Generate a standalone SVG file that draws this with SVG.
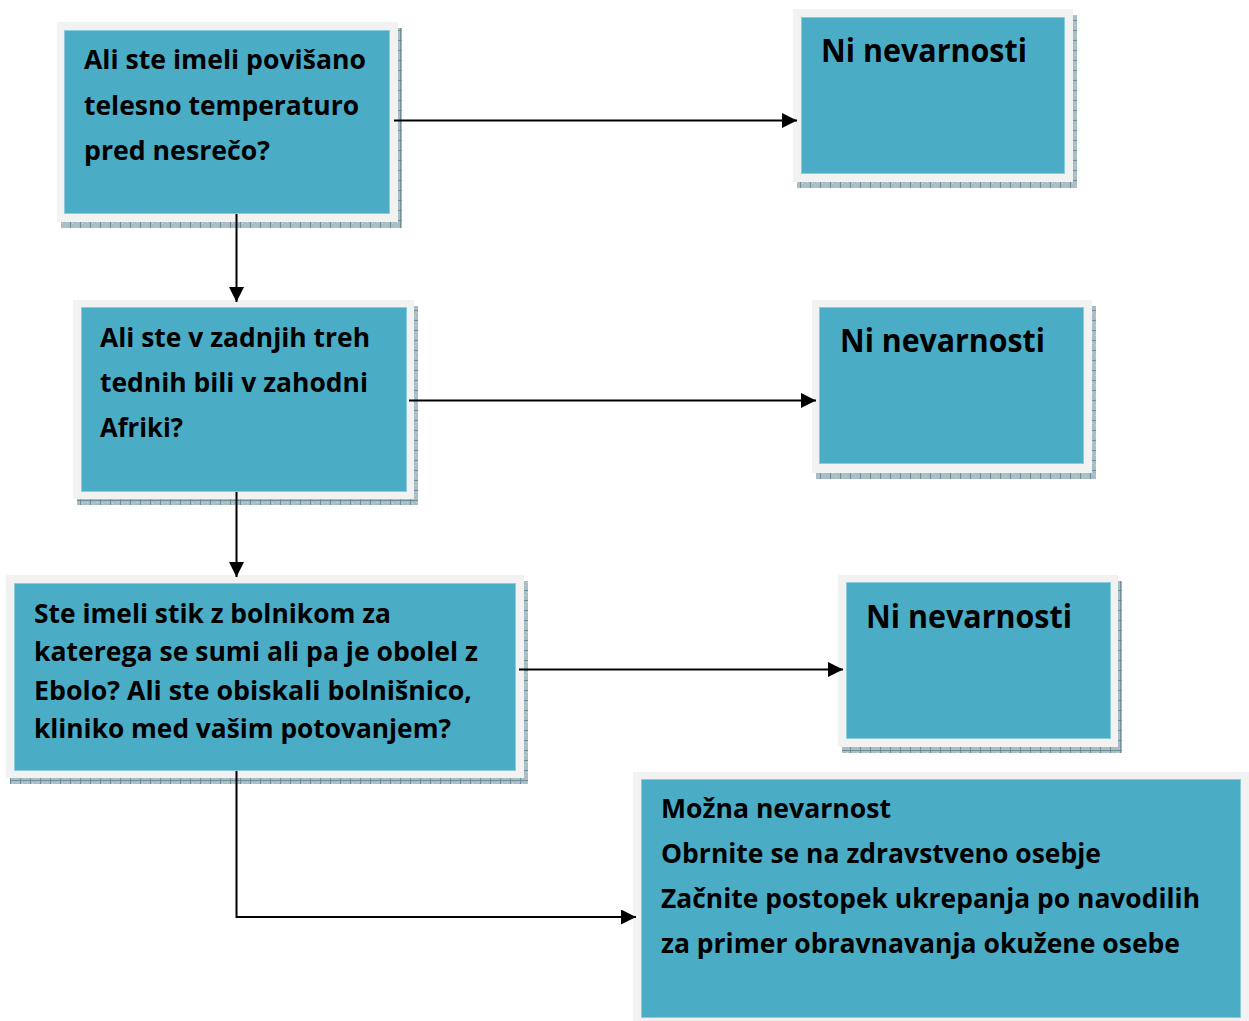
<svg xmlns="http://www.w3.org/2000/svg" width="1249" height="1021" viewBox="0 0 1249 1021">
  <defs>
    <pattern id="hatch" width="10" height="10" patternUnits="userSpaceOnUse">
      <rect width="10" height="10" fill="#a9bec4"/>
      <rect x="0" y="0" width="1" height="10" fill="#6f8e97"/>
      <rect x="0" y="0" width="10" height="1" fill="#6f8e97"/>
      <rect x="5" y="5" width="1" height="1" fill="#c9d7db"/>
      <rect x="2" y="3" width="1" height="1" fill="#c9d7db"/>
      <rect x="7" y="2" width="1" height="1" fill="#c9d7db"/>
    </pattern>
    <marker id="arrow" markerUnits="userSpaceOnUse" markerWidth="16" markerHeight="16" refX="15" refY="7.5" orient="auto">
      <path d="M0,0 L15,7.5 L0,15 z" fill="#000"/>
    </marker>
  </defs>
  <style>
    .shadow { fill: url(#hatch); }
    .frame { fill: #f2f2f2; }
    .inner { fill: #4bacc6; stroke: #8ccbdc; stroke-width: 1; }
    .t { font-family: "Open Sans", "Noto Sans", sans-serif; font-weight: bold; font-size: 27px; fill: #000; }
    .big { font-size: 32px; }
    .sm { font-size: 26px; }
    .conn { fill: none; stroke: #000; stroke-width: 2; }
  </style>
  <rect width="1249" height="1021" fill="#ffffff"/>

  <g id="q1">
    <rect class="shadow" x="61" y="28" width="341" height="200"/>
    <rect class="frame" x="57" y="22" width="341" height="200"/>
    <rect class="inner" x="64.5" y="30.5" width="325" height="183"/>
    <text class="t" x="84" y="69" textLength="282" lengthAdjust="spacingAndGlyphs">Ali ste imeli povišano</text>
    <text class="t" x="84" y="115" textLength="275" lengthAdjust="spacingAndGlyphs">telesno temperaturo</text>
    <text class="t" x="84" y="160" textLength="186" lengthAdjust="spacingAndGlyphs">pred nesrečo?</text>
  </g>

  <g id="ni1">
    <rect class="shadow" x="797" y="15" width="280" height="173"/>
    <rect class="frame" x="793" y="9" width="280" height="173"/>
    <rect class="inner" x="801.5" y="17.5" width="263" height="156"/>
    <text class="t big" x="821" y="62" textLength="206" lengthAdjust="spacingAndGlyphs">Ni nevarnosti</text>
  </g>

  <g id="q2">
    <rect class="shadow" x="77" y="306" width="341" height="199"/>
    <rect class="frame" x="73" y="300" width="341" height="199"/>
    <rect class="inner" x="81.5" y="307.5" width="325" height="184"/>
    <text class="t" x="100" y="347" textLength="270" lengthAdjust="spacingAndGlyphs">Ali ste v zadnjih treh</text>
    <text class="t" x="100" y="392" textLength="268" lengthAdjust="spacingAndGlyphs">tednih bili v zahodni</text>
    <text class="t" x="100" y="437" textLength="83" lengthAdjust="spacingAndGlyphs">Afriki?</text>
  </g>

  <g id="ni2">
    <rect class="shadow" x="816" y="306" width="280" height="173"/>
    <rect class="frame" x="812" y="300" width="280" height="173"/>
    <rect class="inner" x="819.5" y="307.5" width="264" height="156"/>
    <text class="t big" x="840" y="352" textLength="205" lengthAdjust="spacingAndGlyphs">Ni nevarnosti</text>
  </g>

  <g id="q3">
    <rect class="shadow" x="10" y="581" width="518" height="203"/>
    <rect class="frame" x="6" y="575" width="518" height="203"/>
    <rect class="inner" x="14.5" y="583.5" width="501" height="187"/>
    <text class="t" x="34" y="623" textLength="357" lengthAdjust="spacingAndGlyphs">Ste imeli stik z bolnikom za</text>
    <text class="t" x="34" y="661" textLength="444" lengthAdjust="spacingAndGlyphs">katerega se sumi ali pa je obolel z</text>
    <text class="t" x="34" y="700" textLength="438" lengthAdjust="spacingAndGlyphs">Ebolo? Ali ste obiskali bolnišnico,</text>
    <text class="t" x="34" y="738" textLength="417" lengthAdjust="spacingAndGlyphs">kliniko med vašim potovanjem?</text>
  </g>

  <g id="ni3">
    <rect class="shadow" x="842" y="581" width="280" height="172"/>
    <rect class="frame" x="838" y="575" width="280" height="172"/>
    <rect class="inner" x="846.5" y="582.5" width="264" height="156"/>
    <text class="t big" x="866" y="628" textLength="206" lengthAdjust="spacingAndGlyphs">Ni nevarnosti</text>
  </g>

  <g id="risk">
    <rect class="frame" x="633" y="772" width="616" height="249"/>
    <rect class="inner" x="641.5" y="779.5" width="599" height="238"/>
    <text class="t sm" x="661" y="818" textLength="230" lengthAdjust="spacingAndGlyphs">Možna nevarnost</text>
    <text class="t sm" x="661" y="863" textLength="440" lengthAdjust="spacingAndGlyphs">Obrnite se na zdravstveno osebje</text>
    <text class="t sm" x="661" y="908" textLength="539" lengthAdjust="spacingAndGlyphs">Začnite postopek ukrepanja po navodilih</text>
    <text class="t sm" x="661" y="953" textLength="519" lengthAdjust="spacingAndGlyphs">za primer obravnavanja okužene osebe</text>
  </g>

  <g id="connectors">
    <path class="conn" d="M394,120.5 H797" marker-end="url(#arrow)"/>
    <path class="conn" d="M236.5,214 V302" marker-end="url(#arrow)"/>
    <path class="conn" d="M409,400.5 H816" marker-end="url(#arrow)"/>
    <path class="conn" d="M236.5,492 V577" marker-end="url(#arrow)"/>
    <path class="conn" d="M519,669.5 H843" marker-end="url(#arrow)"/>
    <path class="conn" d="M236.5,771 V917 H636" marker-end="url(#arrow)"/>
  </g>
</svg>
